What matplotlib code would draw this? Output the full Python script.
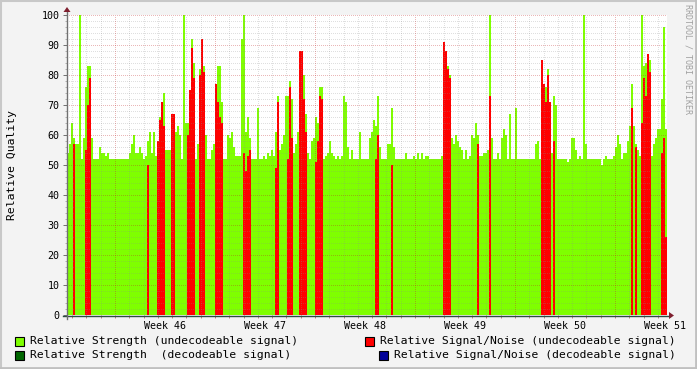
import numpy as np
import matplotlib
matplotlib.use("Agg")
import matplotlib.pyplot as plt
from matplotlib.patches import Rectangle, Polygon
from matplotlib.lines import Line2D

# ---------------- data (one value per 2-pixel time step) ----------------
WEEK_LABELS = ["Week 46", "Week 47", "Week 48", "Week 49", "Week 50", "Week 51"]
Y_TICKS = [0, 10, 20, 30, 40, 50, 60, 70, 80, 90, 100]

STRENGTH_UNDEC = [
    54, 57, 64, 59, 57, 57, 100, 52, 59, 76, 83, 83, 59, 52, 52, 52, 56, 54, 54, 53,
    54, 52, 52, 52, 52, 52, 52, 52, 52, 52, 52, 54, 57, 60, 54, 54, 56, 54, 52, 53,
    58, 61, 54, 61, 53, 58, 66, 60, 74, 55,
    55, 55, 60, 64, 61, 63, 60, 52, 100, 64, 64, 75, 92, 84, 52, 57, 82, 90, 83, 60,
    52, 52, 55, 57, 65, 83, 83, 71, 52, 52, 60, 59, 61, 56, 53, 53, 53, 92, 100, 61,
    66, 59, 52, 52, 52, 69, 52, 52, 53, 52,
    54, 53, 55, 53, 61, 73, 55, 57, 60, 73, 73, 78, 72, 54, 57, 61, 75, 83, 80, 67,
    54, 52, 58, 59, 66, 64, 76, 76, 52, 53, 54, 58, 54, 53, 52, 53, 52, 53, 73, 71,
    56, 52, 55, 52, 52, 52, 61, 52, 52, 52,
    52, 59, 61, 65, 63, 73, 56, 52, 52, 52, 57, 57, 69, 56, 52, 52, 52, 52, 52, 54,
    52, 52, 52, 53, 52, 54, 52, 54, 52, 53, 53, 52, 52, 52, 52, 52, 52, 53, 64, 70,
    83, 80, 59, 57, 60, 58, 56, 55, 52, 55,
    52, 53, 60, 59, 64, 60, 53, 53, 54, 54, 55, 100, 59, 52, 52, 54, 52, 59, 62, 60,
    52, 67, 52, 52, 69, 52, 52, 52, 52, 52, 52, 52, 52, 52, 57, 58, 52, 59, 75, 76,
    82, 71, 54, 73, 70, 52, 52, 52, 52, 52,
    51, 52, 59, 59, 55, 52, 53, 52, 100, 57, 52, 52, 52, 52, 52, 52, 52, 50, 52, 53,
    52, 52, 52, 53, 56, 60, 57, 52, 54, 54, 58, 63, 77, 63, 57, 55, 53, 100, 83, 84,
    84, 85, 53, 57, 59, 62, 62, 72, 96, 62,
]

SNR_UNDEC = [
    0, 0, 0, 57, 0, 0, 0, 0, 0, 55, 70, 79, 0, 0, 0, 0, 0, 0, 0, 0,
    0, 0, 0, 0, 0, 0, 0, 0, 0, 0, 0, 0, 0, 0, 0, 0, 0, 0, 0, 0,
    50, 0, 0, 0, 0, 58, 65, 71, 63, 0,
    0, 0, 67, 67, 0, 0, 0, 0, 0, 0, 60, 75, 89, 79, 0, 0, 80, 92, 81, 0,
    0, 0, 0, 0, 77, 71, 66, 64, 0, 0, 0, 0, 0, 0, 0, 0, 0, 0, 54, 48,
    53, 55, 0, 0, 0, 0, 0, 0, 0, 0,
    0, 0, 0, 0, 49, 71, 0, 0, 0, 0, 52, 76, 59, 0, 0, 0, 88, 88, 72, 61,
    0, 0, 0, 0, 51, 58, 73, 72, 0, 0, 0, 0, 0, 0, 0, 0, 0, 0, 0, 0,
    0, 0, 0, 0, 0, 0, 0, 0, 0, 0,
    0, 0, 0, 0, 52, 60, 0, 0, 0, 0, 0, 0, 50, 0, 0, 0, 0, 0, 0, 0,
    0, 0, 0, 0, 0, 0, 0, 0, 0, 0, 0, 0, 0, 0, 0, 0, 0, 0, 91, 88,
    82, 79, 0, 0, 0, 0, 0, 0, 0, 0,
    0, 0, 0, 0, 0, 57, 0, 0, 0, 0, 0, 73, 0, 0, 0, 0, 0, 0, 0, 0,
    0, 0, 0, 0, 0, 0, 0, 0, 0, 0, 0, 0, 0, 0, 0, 0, 0, 85, 77, 71,
    80, 71, 0, 58, 0, 0, 0, 0, 0, 0,
    0, 0, 0, 0, 0, 0, 0, 0, 0, 0, 0, 0, 0, 0, 0, 0, 0, 0, 0, 0,
    0, 0, 0, 0, 0, 0, 0, 0, 0, 0, 0, 0, 69, 0, 56, 0, 0, 64, 79, 73,
    87, 81, 0, 0, 0, 0, 0, 54, 59, 26,
]

LEGEND = [
    ("Relative Strength (undecodeable signal)", "#7FFF00"),
    ("Relative Strength  (decodeable signal)", "#006600"),
    ("Relative Signal/Noise (undecodeable signal)", "#FF0000"),
    ("Relative Signal/Noise (decodeable signal)", "#000099"),
]

# ---------------- layout ----------------
W, H = 697, 369
MONO = "DejaVu Sans Mono"
fig = plt.figure(figsize=(W / 100, H / 100), dpi=100)
fig.patch.set_facecolor("#F3F3F3")


def fx(x):
    return x / W


def fy(y):
    return 1 - y / H


X0, X1, Y0, Y1 = 67, 667, 15, 315
ax = fig.add_axes([fx(X0), fy(Y1), (X1 - X0) / W, (Y1 - Y0) / H])
ax.set_facecolor("white")
for s in ax.spines.values():
    s.set_visible(False)

n = len(STRENGTH_UNDEC)
edges = np.arange(n + 1) * 2.0
ax.stairs(STRENGTH_UNDEC, edges, fill=True, baseline=0, facecolor="#7FFF00",
          edgecolor="none", linewidth=0, antialiased=False, zorder=1)
ax.stairs(SNR_UNDEC, edges, fill=True, baseline=0, facecolor="#FF0000",
          edgecolor="none", linewidth=0, antialiased=False, zorder=2)

ax.set_xlim(0, 600)
ax.set_ylim(0, 100)

# grid (drawn on top like rrdtool)
dash = dict(linestyle=(0, (1, 1.5)), linewidth=0.72, zorder=3, antialiased=False)
MINOR_COL, MAJOR_COL = "#8C8C8C", "#C02020"
for v in range(2, 101, 2):
    if v % 10:
        ax.axhline(v, color=MINOR_COL, alpha=0.28, **dash)
    else:
        ax.axhline(v, color=MAJOR_COL, alpha=0.32, **dash)
day = 100 / 7
for m in range(-3, 39):
    p = 48 + day * m
    if p <= 0 or p >= 600:
        continue
    if m % 7 == 0:
        ax.axvline(p, color=MAJOR_COL, alpha=0.32, **dash)
    else:
        ax.axvline(p, color=MINOR_COL, alpha=0.28, **dash)

# ticks
ax.set_yticks(Y_TICKS)
ax.set_yticklabels([str(v) for v in Y_TICKS], fontfamily=MONO, fontsize=7.2)
ax.tick_params(axis="y", length=3, width=0.7, color="#707070", pad=2.5)
ax.set_yticks(range(0, 101, 2), minor=True)
ax.tick_params(axis="y", which="minor", length=1.5, width=0.7, color="#B0B0B0")
ax.set_xticks([98 + 100 * k for k in range(len(WEEK_LABELS))])
ax.set_xticklabels(WEEK_LABELS, fontfamily=MONO, fontsize=7.2)
ax.tick_params(axis="x", length=0, pad=4.5)
ax.set_xticks([48 + day * m for m in range(-3, 39) if 0 < 48 + day * m < 600], minor=True)
ax.tick_params(axis="x", which="minor", length=2, width=0.7, color="#C08080")

# axis lines and arrows (pixel coordinates)
axis_col = "#2C4D43"
fig.add_artist(Line2D([fx(63), fx(670)], [fy(315.5), fy(315.5)], color=axis_col,
                      linewidth=1.0, zorder=5))
fig.add_artist(Line2D([fx(67), fx(67)], [fy(319), fy(10)], color="#707070",
                      linewidth=1.0, zorder=5))
arrow_col = "#7F1F2F"
fig.add_artist(Polygon([[fx(669), fy(312)], [fx(669), fy(319)], [fx(674), fy(315.5)]],
                       closed=True, facecolor=arrow_col, edgecolor="none", zorder=6))
fig.add_artist(Polygon([[fx(63.5), fy(12)], [fx(70.5), fy(12)], [fx(67), fy(7)]],
                       closed=True, facecolor=arrow_col, edgecolor="none", zorder=6))

# y label and watermark
fig.text(fx(12), fy(165), "Relative Quality", rotation=90, ha="center", va="center",
         fontfamily=MONO, fontsize=8.2)
fig.text(fx(688), fy(4), "RRDTOOL / TOBI OETIKER", rotation=270, ha="center", va="top",
         fontfamily=MONO, fontsize=6, color="#A0A0A0")

# legend
legend_pos = [(15, 341), (15, 355), (365, 341), (379, 355)]
for (label, col), (lx, ly) in zip(LEGEND, legend_pos):
    fig.add_artist(Rectangle((fx(lx), fy(ly + 4.5)), 9 / W, 9 / H, facecolor=col,
                             edgecolor="black", linewidth=0.8))
    fig.text(fx(lx + 15), fy(ly), label, ha="left", va="center", fontfamily=MONO,
             fontsize=8.2)

# 3D-ish frame
fig.add_artist(Line2D([0, 1], [fy(0.5), fy(0.5)], color="#C8C8C8", linewidth=1.5))
fig.add_artist(Line2D([fx(0.5), fx(0.5)], [0, 1], color="#C8C8C8", linewidth=1.5))
fig.add_artist(Line2D([0, 1], [fy(368), fy(368)], color="#C0C0C0", linewidth=2))
fig.add_artist(Line2D([fx(696), fx(696)], [0, 1], color="#C0C0C0", linewidth=2))

fig.savefig("out.png", dpi=100, facecolor=fig.get_facecolor())
